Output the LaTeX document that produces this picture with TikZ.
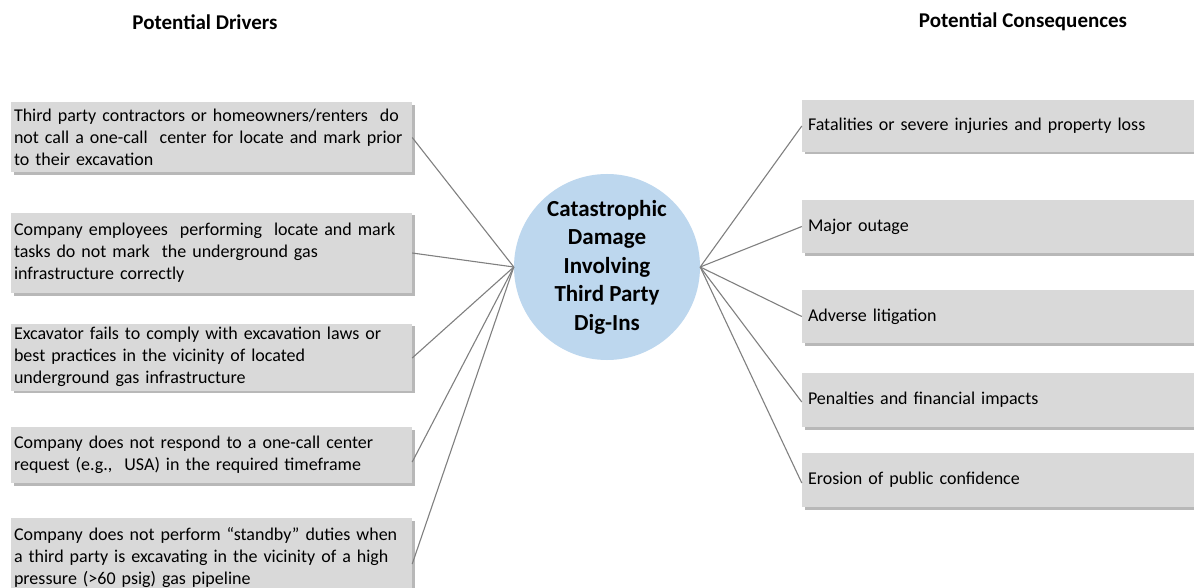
\documentclass[tikz,border=0pt]{standalone}
\usepackage{fontspec}
\setmainfont{Carlito}
\usetikzlibrary{shadows}
\definecolor{boxfill}{HTML}{D9D9D9}
\definecolor{boxshadow}{HTML}{B8B8B8}
\definecolor{circfill}{HTML}{BDD7EE}
\definecolor{linkgray}{HTML}{808080}
\begin{document}
\begin{tikzpicture}[x=1pt,y=-1pt,
  boxbase/.style={fill=boxfill, general shadow={fill=boxshadow, shadow xshift=2.5pt, shadow yshift=-2.5pt}, inner ysep=0pt, align=left, font=\fontsize{18}{22}\selectfont},
  driver/.style={boxbase, minimum width=401pt, text width=395pt, inner xsep=3pt},
  conseq/.style={boxbase, minimum width=398pt, text width=386pt, inner xsep=6pt},
  hub/.style={circle, fill=circfill, minimum size=186pt, inner sep=0pt, align=center, font=\bfseries\fontsize{23}{28.5}\selectfont},
  heading/.style={font=\bfseries\fontsize{21}{24}\selectfont},
  link/.style={draw=linkgray, line width=1.1pt}]
\useasboundingbox (0,0) rectangle (1194,588);
\fill[white] (0,0) rectangle (1194,588);
\begin{scope}
\clip (0,0) rectangle (1194,588);
\node[heading] (t1) at (205,22) {Potential Drivers};
\node[heading] (t2) at (1023,22) {Potential Consequences};

\node[driver, minimum height=70pt] (d1) at (211.5,137.5) {Third party contractors or homeowners/renters\ \ do\\not call a one-call\ \ center for locate and mark prior\\to their excavation};
\node[driver, minimum height=80pt] (d2) at (211.5,253) {Company employees\ \ performing\ \ locate and mark\\tasks do not mark\ \ the underground gas\\infrastructure correctly};
\node[driver, minimum height=67pt] (d3) at (211.5,357) {Excavator fails to comply with excavation laws or\\best practices in the vicinity of located\\underground gas infrastructure};
\node[driver, minimum height=56pt] (d4) at (211.5,455) {Company does not respond to a one-call center\\request (e.g.,\ \ USA) in the required timeframe};
\node[driver, minimum height=80pt] (d5) at (211.5,558) {Company does not perform “standby” duties when\\a third party is excavating\ in the vicinity of a high\\pressure (>60 psig) gas pipeline};

\node[conseq, minimum height=52pt] (r1) at (1001,126) {Fatalities\ or severe\ injuries\ and\ property loss};
\node[conseq, minimum height=53pt] (r2) at (1001,226.5) {Major outage};
\node[conseq, minimum height=53pt] (r3) at (1001,316.5) {Adverse\ litigation};
\node[conseq, minimum height=54pt] (r4) at (1001,400) {Penalties\ and financial impacts};
\node[conseq, minimum height=54pt] (r5) at (1001,480) {Erosion\ of public confidence};

\node[hub] (c) at (607,267) {Catastrophic\\Damage\\Involving\\Third Party\\Dig-Ins};

\draw[link] (c.west) -- (d1.east);
\draw[link] (c.west) -- (d2.east);
\draw[link] (c.west) -- ([yshift=-1pt]d3.east);
\draw[link] (c.west) -- ([yshift=-7pt]d4.east);
\draw[link] (c.west) -- ([yshift=-6pt]d5.east);
\draw[link] (c.east) -- (r1.west);
\draw[link] (c.east) -- (r2.west);
\draw[link] (c.east) -- (r3.west);
\draw[link] (c.east) -- ([yshift=-2pt]r4.west);
\draw[link] (c.east) -- ([yshift=-3pt]r5.west);
\end{scope}
\end{tikzpicture}
\end{document}
